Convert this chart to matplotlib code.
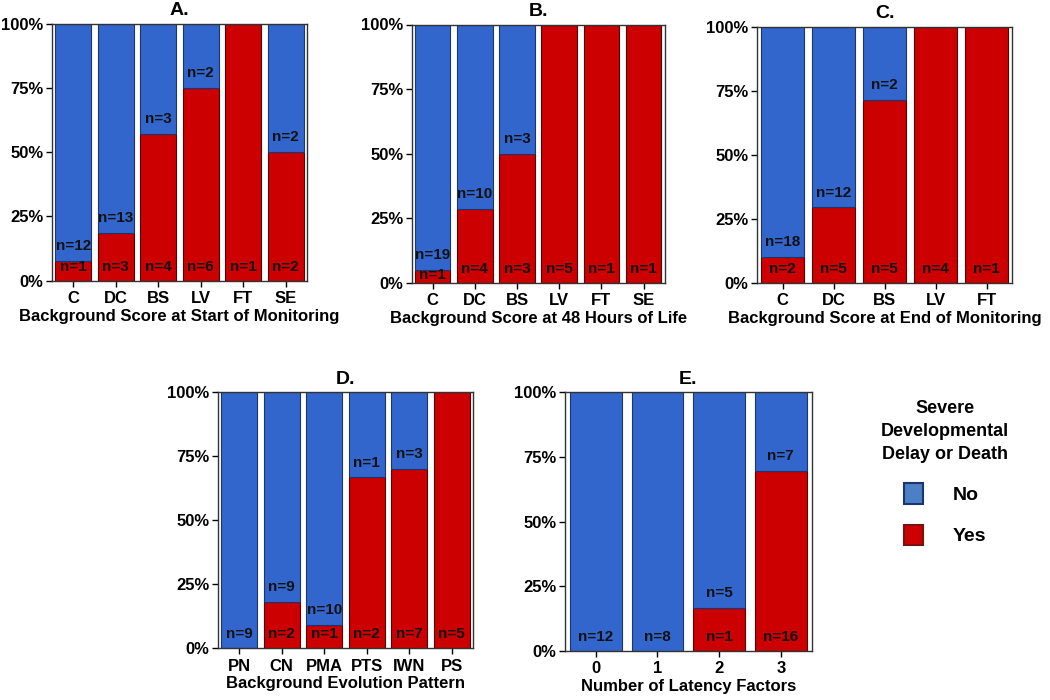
import numpy as np
import matplotlib.pyplot as plt
from matplotlib.patches import Patch

plt.rcParams['font.family'] = ['Liberation Sans', 'DejaVu Sans']

# counts per panel: (categories, yes counts, no counts)
cats_a = ['C', 'DC', 'BS', 'LV', 'FT', 'SE']
yes_a = [1, 3, 4, 6, 1, 2]
no_a = [12, 13, 3, 2, 0, 2]

cats_b = ['C', 'DC', 'BS', 'LV', 'FT', 'SE']
yes_b = [1, 4, 3, 5, 1, 1]
no_b = [19, 10, 3, 0, 0, 0]

cats_c = ['C', 'DC', 'BS', 'LV', 'FT']
yes_c = [2, 5, 5, 4, 1]
no_c = [18, 12, 2, 0, 0]

cats_d = ['PN', 'CN', 'PMA', 'PTS', 'IWN', 'PS']
yes_d = [0, 2, 1, 2, 7, 5]
no_d = [9, 9, 10, 1, 3, 0]

cats_e = ['0', '1', '2', '3']
yes_e = [0, 0, 1, 16]
no_e = [12, 8, 5, 7]

BLUE = '#3366cc'
RED = '#cc0000'

fig = plt.figure(figsize=(10.5, 7), dpi=100)


def panel(rect, title, xlabel, cats, yes, no):
    ax = fig.add_axes(rect)
    yes = np.array(yes, dtype=float)
    no = np.array(no, dtype=float)
    tot = yes + no
    fy = yes / tot
    fn = no / tot
    x = np.arange(len(cats))
    ax.bar(x, fy, width=0.84, color=RED, edgecolor='#5a0000', linewidth=0.8)
    ax.bar(x, fn, width=0.84, bottom=fy, color=BLUE, edgecolor='#1a3570', linewidth=0.8)
    kw = dict(ha='center', va='center', fontsize=11, fontweight='bold', color='#111111')
    for i in range(len(cats)):
        if yes[i] > 0:
            ax.text(x[i], min(0.055, fy[i] - 0.02), 'n=%d' % yes[i], **kw)
            if no[i] > 0:
                ax.text(x[i], fy[i] + 0.058, 'n=%d' % no[i], **kw)
        else:
            ax.text(x[i], 0.055, 'n=%d' % no[i], **kw)
    ax.set_xlim(-0.5, len(cats) - 0.5)
    ax.set_ylim(0, 1)
    ax.set_yticks([0, 0.25, 0.5, 0.75, 1.0])
    ax.set_yticklabels(['0%', '25%', '50%', '75%', '100%'])
    ax.set_xticks(x)
    ax.set_xticklabels(cats)
    ax.tick_params(labelsize=12, direction='out', length=4, width=1)
    ax.tick_params(axis='y', pad=2)
    for lab in ax.get_xticklabels() + ax.get_yticklabels():
        lab.set_fontweight('bold')
    for s in ax.spines.values():
        s.set_color('#333333')
        s.set_linewidth(1)
    ax.set_title(title, fontsize=14, fontweight='bold', pad=6)
    ax.set_xlabel(xlabel, fontsize=12, fontweight='bold', labelpad=2)
    return ax


panel([0.0495, 0.599, 0.243, 0.367], 'A.', 'Background Score at Start of Monitoring', cats_a, yes_a, no_a)
panel([0.392, 0.596, 0.241, 0.369], 'B.', 'Background Score at 48 Hours of Life', cats_b, yes_b, no_b)
panel([0.721, 0.596, 0.243, 0.366], 'C.', 'Background Score at End of Monitoring', cats_c, yes_c, no_c)
panel([0.2076, 0.074, 0.243, 0.366], 'D.', 'Background Evolution Pattern', cats_d, yes_d, no_d)
panel([0.538, 0.07, 0.235, 0.37], 'E.', 'Number of Latency Factors', cats_e, yes_e, no_e)

handles = [Patch(facecolor='#4d7fc4', edgecolor='#1a3570', linewidth=1.5, label='No'),
           Patch(facecolor='#cc0000', edgecolor='#7a1010', linewidth=1.5, label='Yes')]
leg = fig.legend(handles=handles, title='Severe\nDevelopmental\nDelay or Death',
                 loc='upper center', bbox_to_anchor=(0.9, 0.442), frameon=False,
                 fontsize=14, title_fontproperties={'weight': 'bold', 'size': 13},
                 borderpad=0, handlelength=1.0, handleheight=1.25, handletextpad=1.5,
                 labelspacing=1.05)
leg._legend_box.align = 'center'
leg.get_title().set_multialignment('center')
leg.get_title().set_linespacing(1.45)
for t in leg.get_texts():
    t.set_fontweight('bold')

fig.savefig('out.png', dpi=100)
